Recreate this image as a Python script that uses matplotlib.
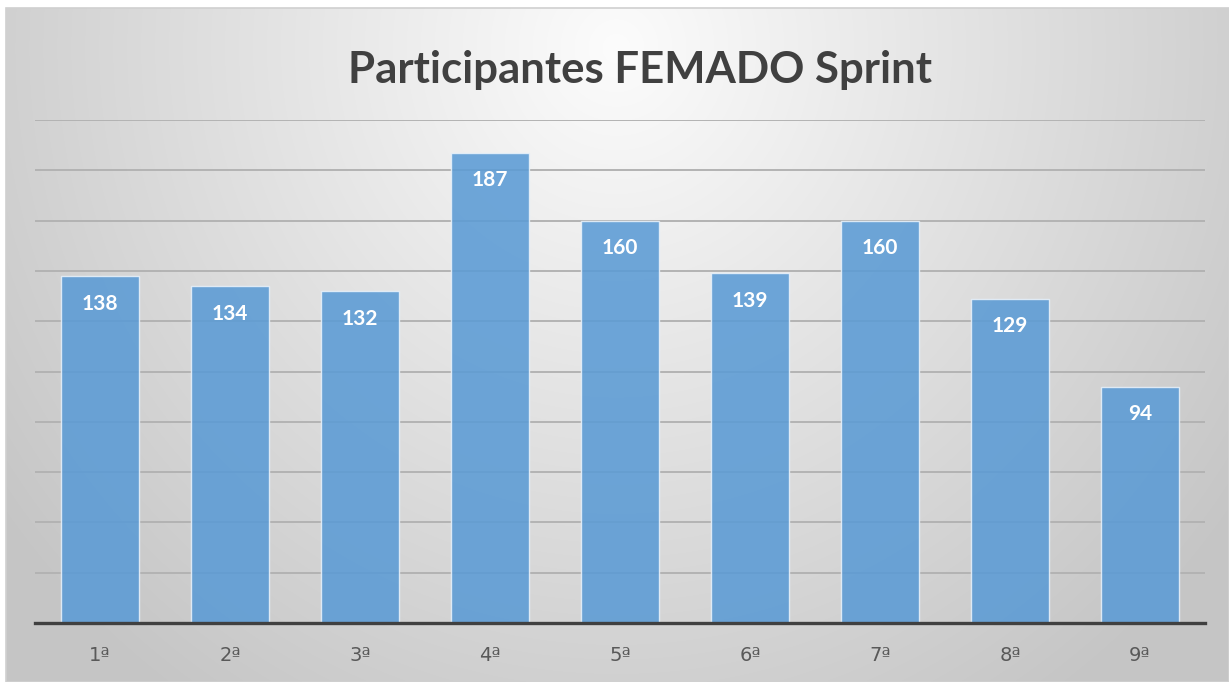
import numpy as np
import matplotlib
matplotlib.use("Agg")
import matplotlib.pyplot as plt
from matplotlib.patches import Rectangle

categories = ["1ª", "2ª", "3ª", "4ª", "5ª", "6ª", "7ª", "8ª", "9ª"]
values = [138, 134, 132, 187, 160, 139, 160, 129, 94]
title = "Participantes FEMADO Sprint"

W, H = 1229, 682
fig = plt.figure(figsize=(W / 100, H / 100), dpi=100)
fig.patch.set_facecolor("white")

# Background radial gradient
bg = fig.add_axes([6 / W, 0, 1 - 6 / W, 1 - 8 / H], zorder=0)
yy, xx = np.mgrid[0:674, 0:1223]
dx = (xx - 610) / 615.0
dy = (yy - 40) / 640.0
r = np.sqrt(dx ** 2 + dy ** 2)
v = (252 - 44 * r) / 255.0
v = np.clip(v, 197 / 255.0, 1)
img = np.dstack([v, v, v])
bg.imshow(img, aspect="auto", extent=[0, 1, 0, 1], origin="upper", interpolation="bilinear")
bg.set_axis_off()
fig.patches.append(Rectangle((6 / W, 0), 1 - 6 / W, 1 - 8 / H, transform=fig.transFigure,
                             fill=False, edgecolor="#d0d0d0", linewidth=1.2, zorder=1))

font = "Lato"
ax = fig.add_axes([35 / W, 1 - 623 / H, 1170 / W, (623 - 120) / H], zorder=2)
ax.patch.set_alpha(0)
x = np.arange(len(categories))
bars = ax.bar(x, values, width=0.6, color="#5B9BD5", alpha=0.88, edgecolor="#e8f1fa",
              linewidth=1.0, zorder=3)
ax.set_xlim(-0.5, len(categories) - 0.5)
ax.set_ylim(0, 200)
ax.set_yticks(np.arange(20, 201, 20))
ax.yaxis.grid(True, color="#b3b3b3", linewidth=1.4, zorder=1)
ax.set_axisbelow(True)
for s in ["top", "right", "left"]:
    ax.spines[s].set_visible(False)
ax.spines["bottom"].set_color("#404040")
ax.spines["bottom"].set_linewidth(2.4)
ax.spines["bottom"].set_zorder(5)
ax.tick_params(axis="y", left=False, labelleft=False)
ax.tick_params(axis="x", bottom=False, pad=13)
ax.set_xticks(x)
ax.set_xticklabels(categories, fontsize=14, color="#595959", fontfamily=["DejaVu Sans"])

for xi, v in zip(x, values):
    ax.annotate(str(v), (xi, v), xytext=(0, -20), textcoords="offset points",
                ha="center", va="center", color="white", fontsize=15,
                fontweight="bold", fontfamily=font, zorder=6)

fig.text(640 / W, 1 - 70 / H, title, ha="center", va="center", fontsize=31.5,
         fontweight="bold", color="#404040", fontfamily=font)

fig.savefig("out.png", dpi=100)
